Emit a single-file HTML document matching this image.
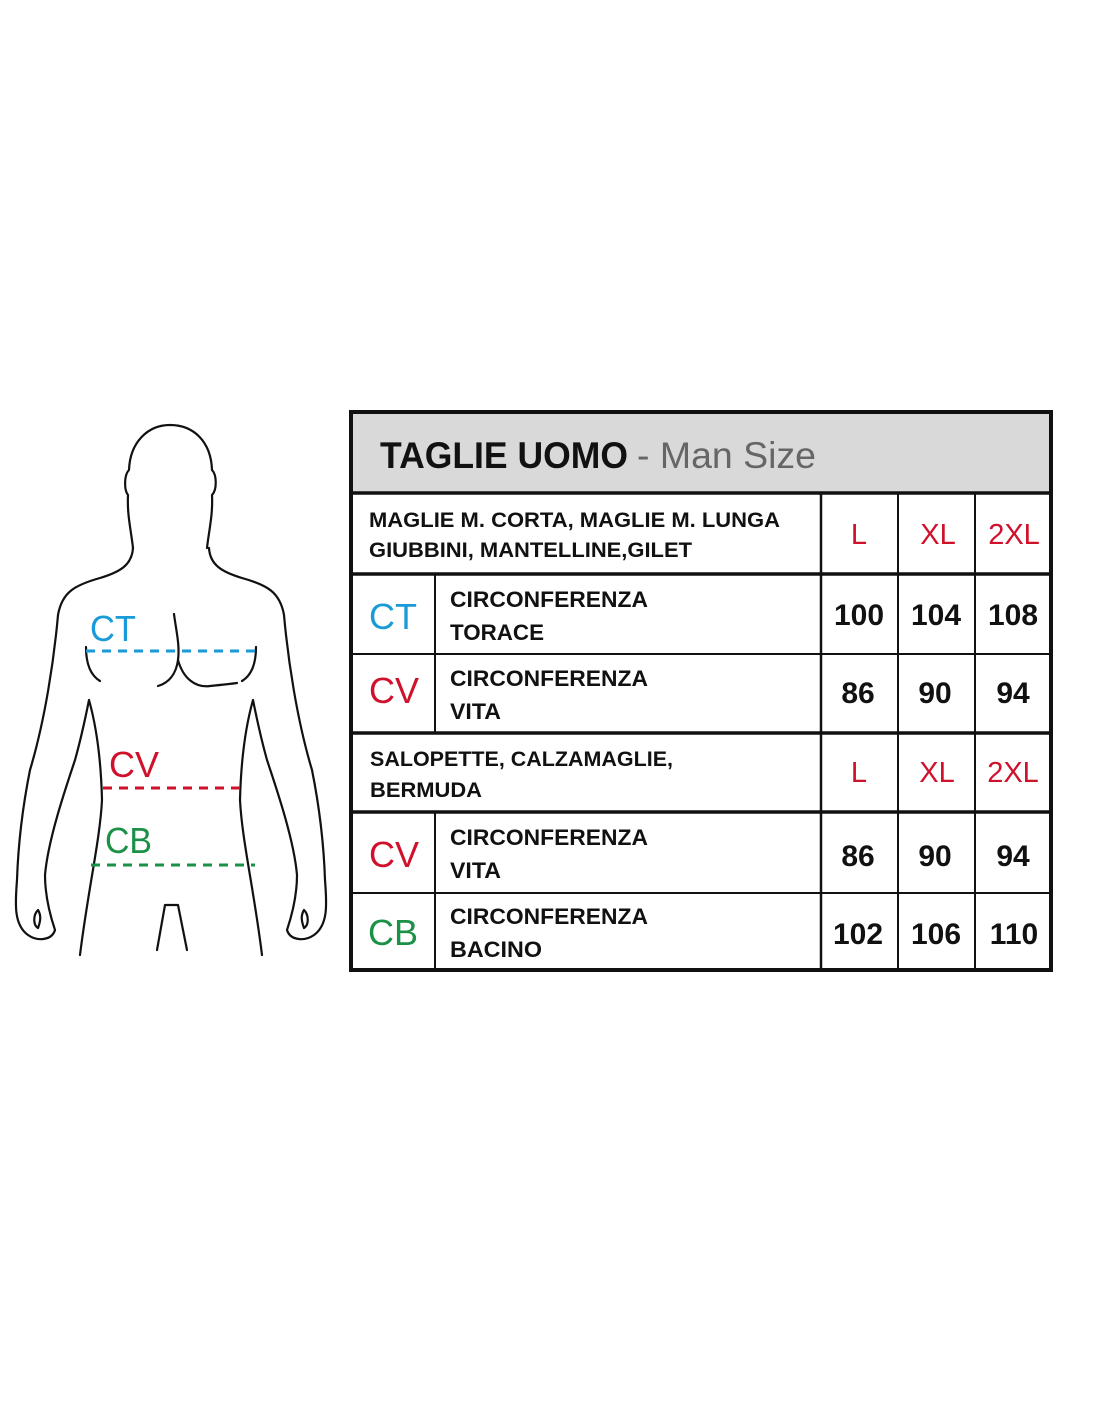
<!DOCTYPE html>
<html><head><meta charset="utf-8"><style>
html,body{margin:0;padding:0;background:#fff}
svg{display:block}
text{font-family:"Liberation Sans Narrow","Liberation Sans",sans-serif;font-weight:bold}
text.n{font-weight:normal}
</style></head><body>
<svg width="1100" height="1422" viewBox="0 0 1100 1422" xmlns="http://www.w3.org/2000/svg">
<rect width="1100" height="1422" fill="#fff"/>
<g fill="none" stroke="#111" stroke-width="2.2" stroke-linecap="round" stroke-linejoin="round">
  <path d="M133,548 C131,530 127,515 128,495 C124,490 124,475 129,470 C130,442 148,425 170,425 C194,425 211,442 212,470 C217,475 217,490 212,495 C213,515 209,530 207,548"/>
  <g id="half">
    <path d="M133,548 C132,565 120,572 100,578 C75,585 62,592 58,615 C54,660 45,720 30,770 C22,810 18,850 17,880 C15,905 14,925 28,935 C38,942 52,940 55,930 C50,915 45,895 45,875 C48,840 65,790 75,760 C82,735 86,715 89,700 C96,725 101,760 102,800 C100,840 88,890 80,955"/>
    <path d="M38,910 C33,915 33,925 38,928 C41,920 41,915 38,910 Z"/>
    <path d="M86,647 C86,662 90,675 100,681"/>
  </g>
  <use href="#half" transform="translate(342,0) scale(-1,1)"/>
  <path d="M174,614 C176,630 180,645 178,660 C176,675 168,683 158,686"/>
  <path d="M178,660 C183,678 195,688 210,686 C220,685 230,684 237,683"/>
  <path d="M157,950 L165,905 L178,905 L187,950"/>
</g>
<line x1="86" y1="651" x2="258" y2="651" stroke="#1a9ad6" stroke-width="3" stroke-dasharray="9,7"/>
<line x1="103" y1="788" x2="240" y2="788" stroke="#d0112b" stroke-width="3" stroke-dasharray="9,7"/>
<line x1="91" y1="865" x2="255" y2="865" stroke="#1a9146" stroke-width="3" stroke-dasharray="9,7"/>
<text class="n" x="90" y="641" font-size="36" fill="#1a9ad6" textLength="46" lengthAdjust="spacingAndGlyphs">CT</text>
<text class="n" x="109" y="777" font-size="36" fill="#d0112b" textLength="50" lengthAdjust="spacingAndGlyphs">CV</text>
<text class="n" x="105" y="853" font-size="36" fill="#1a9146" textLength="47" lengthAdjust="spacingAndGlyphs">CB</text>

<rect x="351" y="412" width="700" height="81" fill="#d9d9d9"/>
<g stroke="#111" fill="none">
  <rect x="351" y="412" width="700" height="558" stroke-width="4"/>
  <line x1="351" y1="493" x2="1051" y2="493" stroke-width="3.5"/>
  <line x1="351" y1="574" x2="1051" y2="574" stroke-width="3.5"/>
  <line x1="351" y1="654" x2="1051" y2="654" stroke-width="2"/>
  <line x1="351" y1="733" x2="1051" y2="733" stroke-width="3.5"/>
  <line x1="351" y1="812" x2="1051" y2="812" stroke-width="3.5"/>
  <line x1="351" y1="893" x2="1051" y2="893" stroke-width="2"/>
  <line x1="435" y1="574" x2="435" y2="733" stroke-width="2"/>
  <line x1="435" y1="812" x2="435" y2="970" stroke-width="2"/>
  <line x1="821" y1="493" x2="821" y2="970" stroke-width="2.5"/>
  <line x1="898" y1="493" x2="898" y2="970" stroke-width="2"/>
  <line x1="975" y1="493" x2="975" y2="970" stroke-width="2"/>
</g>
<text x="380" y="468" font-size="37" fill="#111" textLength="248" lengthAdjust="spacingAndGlyphs">TAGLIE UOMO</text>
<text class="n" x="637" y="468" font-size="37" fill="#666" textLength="179" lengthAdjust="spacingAndGlyphs">- Man Size</text>
<g font-size="21" fill="#111">
<text x="369" y="527" textLength="411" lengthAdjust="spacingAndGlyphs">MAGLIE M. CORTA, MAGLIE M. LUNGA</text>
<text x="369" y="557" textLength="323" lengthAdjust="spacingAndGlyphs">GIUBBINI, MANTELLINE,GILET</text>
<text x="370" y="766" textLength="303" lengthAdjust="spacingAndGlyphs">SALOPETTE, CALZAMAGLIE,</text>
<text x="370" y="797" textLength="112" lengthAdjust="spacingAndGlyphs">BERMUDA</text>
</g>
<g font-size="22" fill="#111">
<text x="450" y="607" textLength="198" lengthAdjust="spacingAndGlyphs">CIRCONFERENZA</text>
<text x="450" y="640" textLength="94" lengthAdjust="spacingAndGlyphs">TORACE</text>
<text x="450" y="686" textLength="198" lengthAdjust="spacingAndGlyphs">CIRCONFERENZA</text>
<text x="450" y="719" textLength="51" lengthAdjust="spacingAndGlyphs">VITA</text>
<text x="450" y="845" textLength="198" lengthAdjust="spacingAndGlyphs">CIRCONFERENZA</text>
<text x="450" y="878" textLength="51" lengthAdjust="spacingAndGlyphs">VITA</text>
<text x="450" y="924" textLength="198" lengthAdjust="spacingAndGlyphs">CIRCONFERENZA</text>
<text x="450" y="957" textLength="92" lengthAdjust="spacingAndGlyphs">BACINO</text>
</g>
<g font-size="36" text-anchor="middle">
<text class="n" x="393" y="629" fill="#1a9ad6">CT</text>
<text class="n" x="394" y="703" fill="#d0112b">CV</text>
<text class="n" x="394" y="867" fill="#d0112b">CV</text>
<text class="n" x="393" y="945" fill="#1a9146">CB</text>
</g>
<g font-size="29" fill="#d0112b" text-anchor="middle">
<text class="n" x="859" y="544">L</text><text class="n" x="938" y="544">XL</text><text class="n" x="1014" y="544">2XL</text>
<text class="n" x="859" y="782">L</text><text class="n" x="937" y="782">XL</text><text class="n" x="1013" y="782">2XL</text>
</g>
<g font-size="30" fill="#111" text-anchor="middle">
<text x="859" y="625">100</text><text x="936" y="625">104</text><text x="1013" y="625">108</text>
<text x="858" y="703">86</text><text x="935" y="703">90</text><text x="1013" y="703">94</text>
<text x="858" y="866">86</text><text x="935" y="866">90</text><text x="1013" y="866">94</text>
<text x="858" y="944">102</text><text x="936" y="944">106</text><text x="1014" y="944">110</text>
</g>
</svg>
</body></html>
